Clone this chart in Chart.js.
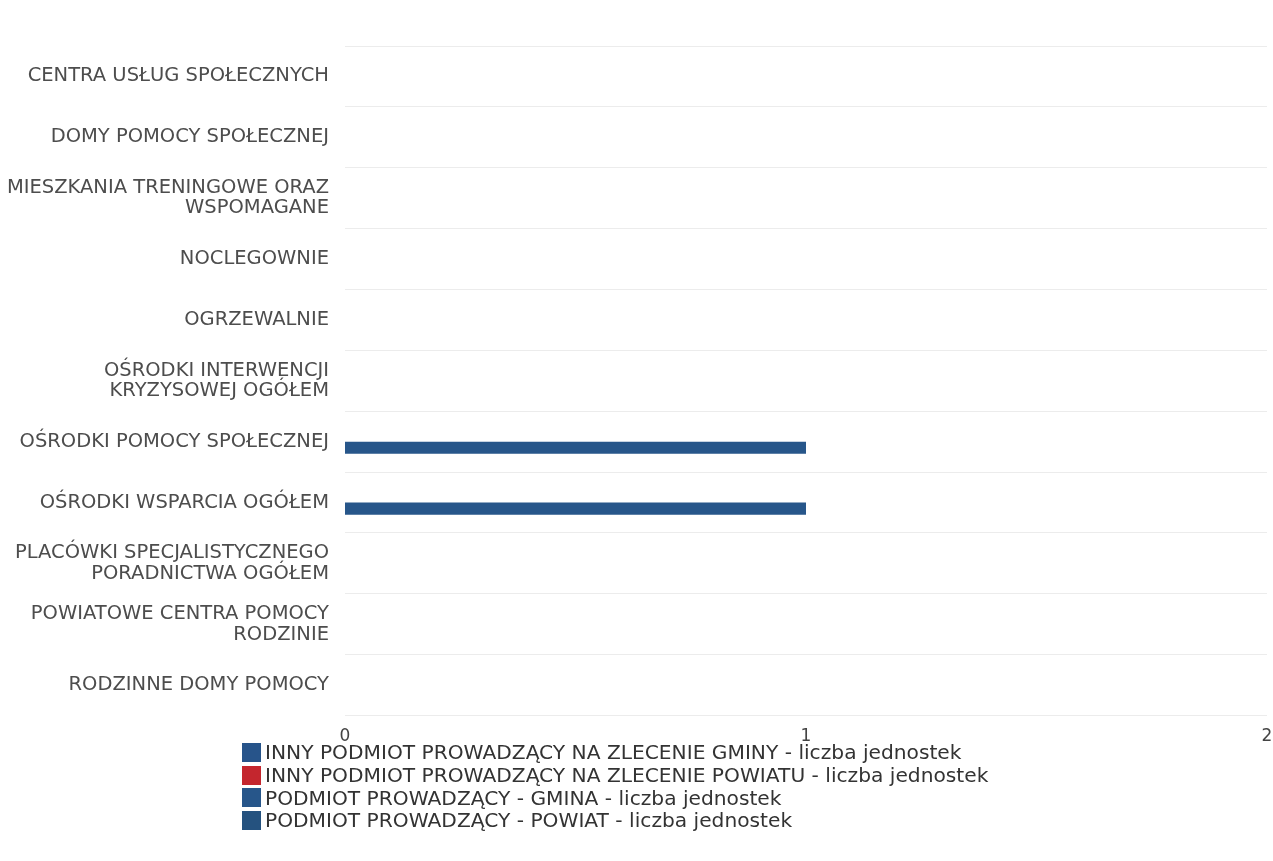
<!DOCTYPE html>
<html>
<head>
<meta charset="utf-8">
<script src="https://cdn.jsdelivr.net/npm/chart.js@4.4.0/dist/chart.umd.min.js"></script>
<style>
  body { margin: 0; background: #fff; }
  #wrap { position: relative; width: 1273px; height: 754px; }
  #legend { margin: -13px 0 0 242px; padding: 0; list-style: none; font-family: "DejaVu Sans", sans-serif; font-size: 20.2px; color: #333; position: relative; }
  #legend li { display: flex; align-items: center; height: 22.7px; white-space: nowrap; }
  #legend span.box { display: inline-block; width: 19px; height: 19px; margin-right: 4px; flex: none; }
</style>
</head>
<body>
<div id="wrap"><canvas id="myChart1"></canvas></div>
<ul id="legend"></ul>
<script>
const ctx = document.getElementById('myChart1').getContext('2d');

const labels = [
  'CENTRA USŁUG SPOŁECZNYCH',
  'DOMY POMOCY SPOŁECZNEJ',
  ['MIESZKANIA TRENINGOWE ORAZ', 'WSPOMAGANE'],
  'NOCLEGOWNIE',
  'OGRZEWALNIE',
  ['OŚRODKI INTERWENCJI', 'KRYZYSOWEJ OGÓŁEM'],
  'OŚRODKI POMOCY SPOŁECZNEJ',
  'OŚRODKI WSPARCIA OGÓŁEM',
  ['PLACÓWKI SPECJALISTYCZNEGO', 'PORADNICTWA OGÓŁEM'],
  ['POWIATOWE CENTRA POMOCY', 'RODZINIE'],
  'RODZINNE DOMY POMOCY'
];

const innyGmina = [0, 0, 0, 0, 0, 0, 0, 0, 0, 0, 0];
const innyPowiat = [0, 0, 0, 0, 0, 0, 0, 0, 0, 0, 0];
const gmina = [0, 0, 0, 0, 0, 0, 1, 1, 0, 0, 0];
const powiat = [0, 0, 0, 0, 0, 0, 0, 0, 0, 0, 0];

const xTicks = [0, 1, 2];

const data = {
  labels,
  datasets: [
    { label: 'INNY PODMIOT PROWADZĄCY NA ZLECENIE GMINY - liczba jednostek', data: innyGmina, backgroundColor: '#27548a' },
    { label: 'INNY PODMIOT PROWADZĄCY NA ZLECENIE POWIATU - liczba jednostek', data: innyPowiat, backgroundColor: '#c4262e' },
    { label: 'PODMIOT PROWADZĄCY - GMINA - liczba jednostek', data: gmina, backgroundColor: '#27568a' },
    { label: 'PODMIOT PROWADZĄCY - POWIAT - liczba jednostek', data: powiat, backgroundColor: '#25527f' },
  ],
};

const config = {
  type: 'bar',
  data: data,
  options: {
    indexAxis: 'y',
    responsive: true,
    maintainAspectRatio: false,
    animation: false,
    layout: { padding: { top: 46, right: 6, left: 0, bottom: 4 } },
    datasets: { bar: { categoryPercentage: 0.8, barPercentage: 1.0 } },
    plugins: {
      legend: { display: false },
      tooltip: { enabled: false },
    },
    scales: {
      x: {
        min: 0,
        max: 2,
        afterBuildTicks: function (axis) {
          axis.ticks = xTicks.map(v => ({ value: v }));
        },
        afterFit: function (axis) { axis.paddingRight = 0; axis.paddingLeft = 0; },
        grid: { display: false },
        border: { display: false },
        ticks: { color: '#444', font: { family: 'DejaVu Sans', size: 17 }, padding: 3 },
      },
      y: {
        afterFit: function (axis) { axis.width = 345; },
        grid: { color: '#ececec', drawTicks: false, offset: true },
        border: { display: false },
        ticks: { color: '#4d4d4d', font: { family: 'DejaVu Sans', size: 19.5, lineHeight: 1.05 }, padding: 16 },
      },
    },
  },
};

const myChart = new Chart(ctx, config);

const legendEl = document.getElementById('legend');
data.datasets.forEach(function (ds) {
  const li = document.createElement('li');
  li.innerHTML = '<span class="box" style="background:' + ds.backgroundColor + '"></span>' + ds.label;
  legendEl.appendChild(li);
});
</script>
</body>
</html>
